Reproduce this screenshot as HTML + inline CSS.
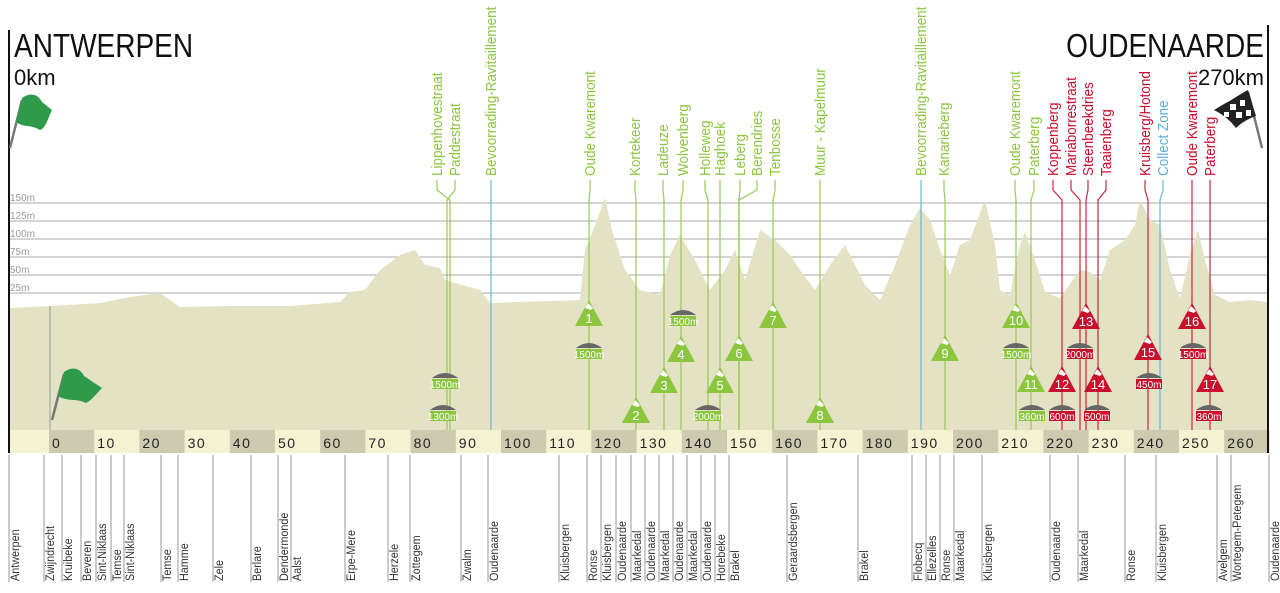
<!DOCTYPE html>
<html><head><meta charset="utf-8"><style>
html,body{margin:0;padding:0;background:#fff;width:1280px;height:593px;overflow:hidden}
svg{display:block}
.t{font-family:"Liberation Sans Narrow","Liberation Sans",sans-serif}
</style></head><body>
<svg id="s" width="1280" height="593" viewBox="0 0 1280 593" xmlns="http://www.w3.org/2000/svg">
<rect width="1280" height="593" fill="#fff"/>
<g stroke="#bbb" stroke-width="1.3">
<line x1="9" y1="203" x2="1268" y2="203"/><line x1="9" y1="221" x2="1268" y2="221"/>
<line x1="9" y1="239" x2="1268" y2="239"/><line x1="9" y1="257" x2="1268" y2="257"/>
<line x1="9" y1="275" x2="1268" y2="275"/><line x1="9" y1="293" x2="1268" y2="293"/>
</g>
<g class="t" font-size="10" fill="#999">
<text x="10" y="201">150m</text><text x="10" y="219">125m</text><text x="10" y="237">100m</text>
<text x="10" y="255">75m</text><text x="10" y="273">50m</text><text x="10" y="291">25m</text>
</g>
<polygon fill="#e3e2c5" points="9,430 9,308 50,306 100,303 130,297 160,293 170,300 180,307 230,306 290,306 340,302 350,292 365,290 380,270 400,255 415,250 425,265 440,268 445,280 480,290 490,303 580,300 585,250 595,225 605,198 612,230 625,270 640,290 660,295 670,255 680,235 695,260 710,290 725,270 735,250 745,280 760,230 775,240 790,255 800,270 815,290 830,265 845,245 865,285 880,300 895,265 910,225 920,208 930,220 940,250 950,275 960,245 970,240 985,200 995,245 1000,290 1010,295 1020,245 1025,232 1035,260 1045,292 1060,298 1080,270 1090,272 1100,280 1110,250 1125,240 1135,225 1140,200 1150,220 1160,225 1170,270 1180,298 1190,255 1198,230 1205,260 1215,295 1230,302 1250,300 1268,302 1268,430"/>
<line x1="50" y1="306" x2="50" y2="430" stroke="#999" stroke-width="1"/>
<g id="band"></g>
<g id="lines"></g>
<g id="marks"></g>
<g id="top"></g>
<g id="bot"></g>
<line x1="9" y1="30" x2="9" y2="453" stroke="#111" stroke-width="2"/>
<line x1="1268" y1="25" x2="1268" y2="453" stroke="#111" stroke-width="2"/>
<g class="t" fill="#111">
<text transform="translate(14,57) scale(0.85,1)" font-size="33">ANTWERPEN</text>
<text x="14" y="85" font-size="22">0km</text>
<text transform="translate(1264,57) scale(0.85,1)" font-size="33" text-anchor="end">OUDENAARDE</text>
<text x="1264" y="85" font-size="22" text-anchor="end">270km</text>
</g>
<g>
<line x1="10" y1="148" x2="22" y2="100" stroke="#777" stroke-width="2.5"/>
<path d="M22,98 C30,92 38,94 42,102 L52,110 C48,118 46,128 40,130 C30,124 24,128 16,122 Z" fill="#2e9a4a"/>
<line x1="52" y1="420" x2="64" y2="374" stroke="#777" stroke-width="2.5"/>
<path d="M64,372 C72,366 80,368 84,376 L102,388 C96,394 92,400 86,403 C76,398 68,402 58,396 Z" fill="#2e9a4a"/>
<line x1="1262" y1="148" x2="1248" y2="92" stroke="#777" stroke-width="2.5"/>
<path d="M1248,90 C1240,94 1232,100 1224,104 L1214,110 C1222,114 1230,120 1236,128 C1242,122 1250,118 1256,116 Z" fill="#222"/>
<path d="M1230,104 l6,0 0,6 -6,0z M1240,100 l5,0 0,6 -5,0z M1236,112 l6,0 0,6 -6,0z M1224,112 l5,0 0,5 -5,0z M1246,110 l5,0 0,6 -5,0z" fill="#fff"/>
</g>
</svg>
<script>
const NS="http://www.w3.org/2000/svg";
function el(p,tag,a,txt){const e=document.createElementNS(NS,tag);for(const k in a)e.setAttribute(k,a[k]);if(txt!=null)e.textContent=txt;document.getElementById(p).appendChild(e);return e;}
el("band","rect",{x:9,y:430,width:1259,height:23,fill:"#f5f2d2"});
for(let k=0;k<27;k++){const x=49+k*45.2;if(k%2==0)el("band","rect",{x:x,y:430,width:45.2,height:23,fill:"#cdcab0"});
 el("band","text",{x:x+3,y:448,"font-size":14,"letter-spacing":"1.5",fill:"#222","font-family":"Liberation Sans,sans-serif"},String(k*10));}
const G="#8cc63f",R="#c8102e",B="#5bb0d8";
const tops=[[437,"Lippenhovestraat",G,450],[455,"Paddestraat",G,447],[491,"Bevoorrading-Ravitaillement",G,491,B],[590,"Oude Kwaremont",G,589],[635,"Kortekeer",G,636],[663,"Ladeuze",G,664],[683,"Wolvenberg",G,681],[705,"Holleweg",G,708],[720,"Haghoek",G,720],[740,"Leberg",G,739],[757,"Berendries",G,739],[775,"Tenbosse",G,773],[820,"Muur - Kapelmuur",G,820],[921,"Bevoorrading-Ravitaillement",G,921,B],[944,"Kanarieberg",G,945],[1015,"Oude Kwaremont",G,1016],[1034,"Paterberg",G,1031],[1053,"Koppenberg",R,1062],[1071,"Mariaborrestraat",R,1080],[1088,"Steenbeekdries",R,1086],[1106,"Taaienberg",R,1098],[1145,"Kruisberg/Hotond",R,1148],[1163,"Collect Zone",B,1160],[1192,"Oude Kwaremont",R,1192],[1210,"Paterberg",R,1210]];
for(const t of tops){const [x,s,c,lx,lc]=t;
 el("top","text",{x:0,y:0,transform:`translate(${x+5},176) rotate(-90) scale(0.9,1)`,"font-size":15,fill:c,class:"t"},s);
 el("lines","path",{d:`M${x},180 L${x},190 L${lx},200 L${lx},430`,stroke:lc||c,"stroke-width":1.2,fill:"none",opacity:0.9});}
const cl=[[1,589,300,G],[2,636,397,G],[3,664,367,G],[4,681,336,G],[5,720,367,G],[6,739,335,G],[7,773,302,G],[8,820,397,G],[9,945,335,G],[10,1016,302,G],[11,1031,366,G],[12,1062,366,R],[13,1086,303,R],[14,1098,366,R],[15,1148,334,R],[16,1192,303,R],[17,1210,366,R]];
for(const [n,x,y,c] of cl){el("marks","path",{d:`M${x},${y} L${x+14},${y+26} L${x-14},${y+26}Z`,fill:c});
 el("marks","path",{d:`M${x-4},${y+8} L${x-1},${y+3} L${x+4},${y+8} L${x+2},${y+10}Z`,fill:"#fff"});
 el("marks","text",{x:x,y:y+23,"font-size":13,fill:"#fff","text-anchor":"middle",class:"t"},String(n));}
const cb=[["1500m",445,370,G],["1300m",443,402,G],["1500m",589,340,G],["1500m",683,307,G],["2000m",708,402,G],["1500m",1016,340,G],["2000m",1080,340,R],["360m",1032,402,G],["600m",1062,402,R],["500m",1097,402,R],["450m",1149,370,R],["1500m",1193,340,R],["360m",1209,402,R]];
for(const [s,x,y,c] of cb){el("marks","path",{d:`M${x-13},${y+8} Q${x},${y-2} ${x+13},${y+8}Z`,fill:"#666"});
 el("marks","rect",{x:x-13,y:y+9,width:26,height:10,fill:c});
 el("marks","text",{x:x,y:y+18,"font-size":10,fill:"#fff","text-anchor":"middle",class:"t"},s);}
const bot=[[15,"Antwerpen"],[50,"Zwijndrecht"],[68,"Kruibeke"],[87,"Beveren"],[102,"Sint-Niklaas"],[117,"Temse"],[130,"Sint-Niklaas"],[167,"Temse"],[184,"Hamme"],[219,"Zele"],[257,"Berlare"],[284,"Dendermonde"],[297,"Aalst"],[351,"Erpe-Mere"],[394,"Herzele"],[416,"Zottegem"],[467,"Zwalm"],[494,"Oudenaarde"],[565,"Kluisbergen"],[593,"Ronse"],[607,"Kluisbergen"],[622,"Oudenaarde"],[637,"Maarkedal"],[651,"Oudenaarde"],[665,"Maarkedal"],[679,"Oudenaarde"],[693,"Maarkedal"],[707,"Oudenaarde"],[721,"Horebeke"],[735,"Brakel"],[793,"Geraardsbergen"],[864,"Brakel"],[918,"Flobecq"],[932,"Ellezelles"],[946,"Ronse"],[960,"Maarkedal"],[988,"Kluisbergen"],[1056,"Oudenaarde"],[1084,"Maarkedal"],[1131,"Ronse"],[1162,"Kluisbergen"],[1223,"Avelgem"],[1237,"Wortegem-Petegem"],[1275,"Oudenaarde"]];
for(const [x,s] of bot){el("bot","line",{x1:x-6,y1:455,x2:x-6,y2:582,stroke:"#999","stroke-width":1});
 el("bot","text",{x:0,y:0,transform:`translate(${x+4},581) rotate(-90) scale(0.9,1)`,"font-size":12,fill:"#333",class:"t"},s);}
</script>
</body></html>
